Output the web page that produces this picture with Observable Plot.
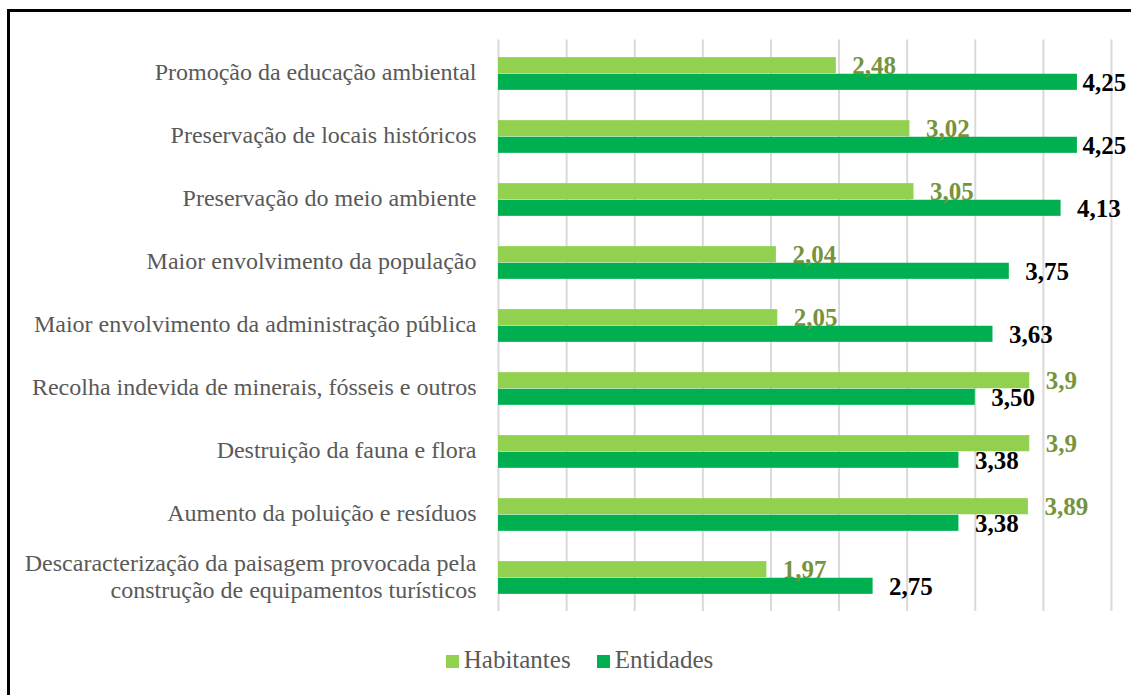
<!DOCTYPE html>
<html>
<head>
<meta charset="utf-8">
<script src="https://cdn.jsdelivr.net/npm/d3@7"></script>
<script src="https://cdn.jsdelivr.net/npm/@observablehq/plot@0.6"></script>
<style>
  html, body { margin: 0; padding: 0; background: #fff; width: 1131px; height: 695px; overflow: hidden; }
  #frame { position: absolute; left: 7px; top: 9px; width: 1200px; height: 800px; border: 3px solid #000; box-sizing: border-box; }
  #chart { position: absolute; left: 0; top: 0; }
  #legend { position: absolute; top: 646px; left: 14px; width: 1131px; display: flex; justify-content: center; font-family: "Liberation Serif", serif; font-size: 25px; color: #595959; }
  #legend .item { display: flex; align-items: center; margin: 0 13px; }
  #legend .sw { width: 13px; height: 13px; margin-right: 5px; display: inline-block; position: relative; top: 1px; }
</style>
</head>
<body>
<div id="frame"></div>
<div id="chart"></div>
<div id="legend"></div>
<script>
const categories = [
  "Promoção da educação ambiental",
  "Preservação de locais históricos",
  "Preservação do meio ambiente",
  "Maior envolvimento da população",
  "Maior envolvimento da administração pública",
  "Recolha indevida de minerais, fósseis e outros",
  "Destruição da fauna e flora",
  "Aumento da poluição e resíduos",
  "Descaracterização da paisagem provocada pela construção de equipamentos turísticos"
];
const categoryLabels = [
  "Promoção da educação ambiental",
  "Preservação de locais históricos",
  "Preservação do meio ambiente",
  "Maior envolvimento da população",
  "Maior envolvimento da administração pública",
  "Recolha indevida de minerais, fósseis e outros",
  "Destruição da fauna e flora",
  "Aumento da poluição e resíduos",
  "Descaracterização da paisagem provocada pela\nconstrução de equipamentos turísticos"
];
const habitantes = [2.48, 3.02, 3.05, 2.04, 2.05, 3.9, 3.9, 3.89, 1.97];
const entidades = [4.25, 4.25, 4.13, 3.75, 3.63, 3.50, 3.38, 3.38, 2.75];
const habitantesLabels = ["2,48", "3,02", "3,05", "2,04", "2,05", "3,9", "3,9", "3,89", "1,97"];
const entidadesLabels = ["4,25", "4,25", "4,13", "3,75", "3,63", "3,50", "3,38", "3,38", "2,75"];
const xTicks = [0, 0.5, 1, 1.5, 2, 2.5, 3, 3.5, 4, 4.5];
const seriesNames = ["Habitantes", "Entidades"];
const seriesColors = ["#92D050", "#00B050"];

const labelOf = new Map(categories.map((c, i) => [c, categoryLabels[i]]));
const table = [];
categories.forEach((c, i) => {
  table.push({category: c, series: "Habitantes", value: habitantes[i], label: habitantesLabels[i]});
  table.push({category: c, series: "Entidades", value: entidades[i], label: entidadesLabels[i]});
});

const mTop = 39.5, mBottom = 10;
const band = 63.5;
const H = mTop + mBottom + band * categories.length;
const barH = 16.6;
const half = band / 2;
const labelMax = 4.17; // keep the labels of the longest bars inside the frame

const hab = table.filter(d => d.series === "Habitantes");
const ent = table.filter(d => d.series === "Entidades");

const plot = Plot.plot({
  width: 1131,
  height: H,
  marginLeft: 498,
  marginRight: 20,
  marginTop: mTop,
  marginBottom: mBottom,
  x: {domain: [0, 4.5], axis: null},
  y: {domain: categories, padding: 0, axis: null},
  color: {domain: seriesNames, range: seriesColors},
  marks: [
    Plot.ruleX(xTicks, {stroke: "#d9d9d9", strokeWidth: 2}),
    Plot.barX(hab, {y: "category", x: "value", fill: "series", insetTop: half - barH, insetBottom: half}),
    Plot.barX(ent, {y: "category", x: "value", fill: "series", insetTop: half, insetBottom: half - barH}),
    Plot.text(hab, {y: "category", x: "value", text: "label", textAnchor: "start", dx: 16, dy: -barH / 2 + 0.5,
      fill: "#77933C", fontFamily: "Liberation Serif", fontWeight: "bold", fontSize: 25}),
    Plot.text(ent, {y: "category", x: d => Math.min(d.value, labelMax), text: "label", textAnchor: "start", dx: 16, dy: barH / 2 + 1,
      fill: "#000", fontFamily: "Liberation Serif", fontWeight: "bold", fontSize: 25}),
    Plot.text(categories, {y: d => d, x: () => 0, text: d => labelOf.get(d), textAnchor: "end", dx: -22, dy: -2,
      fill: "#595959", fontFamily: "Liberation Serif", fontSize: 24, lineHeight: 1.1})
  ]
});
document.getElementById("chart").appendChild(plot);

const legend = document.getElementById("legend");
seriesNames.forEach((s, i) => {
  const item = document.createElement("span");
  item.className = "item";
  const sw = document.createElement("span");
  sw.className = "sw";
  sw.style.background = seriesColors[i];
  item.appendChild(sw);
  item.appendChild(document.createTextNode(s));
  legend.appendChild(item);
});
</script>
</body>
</html>
